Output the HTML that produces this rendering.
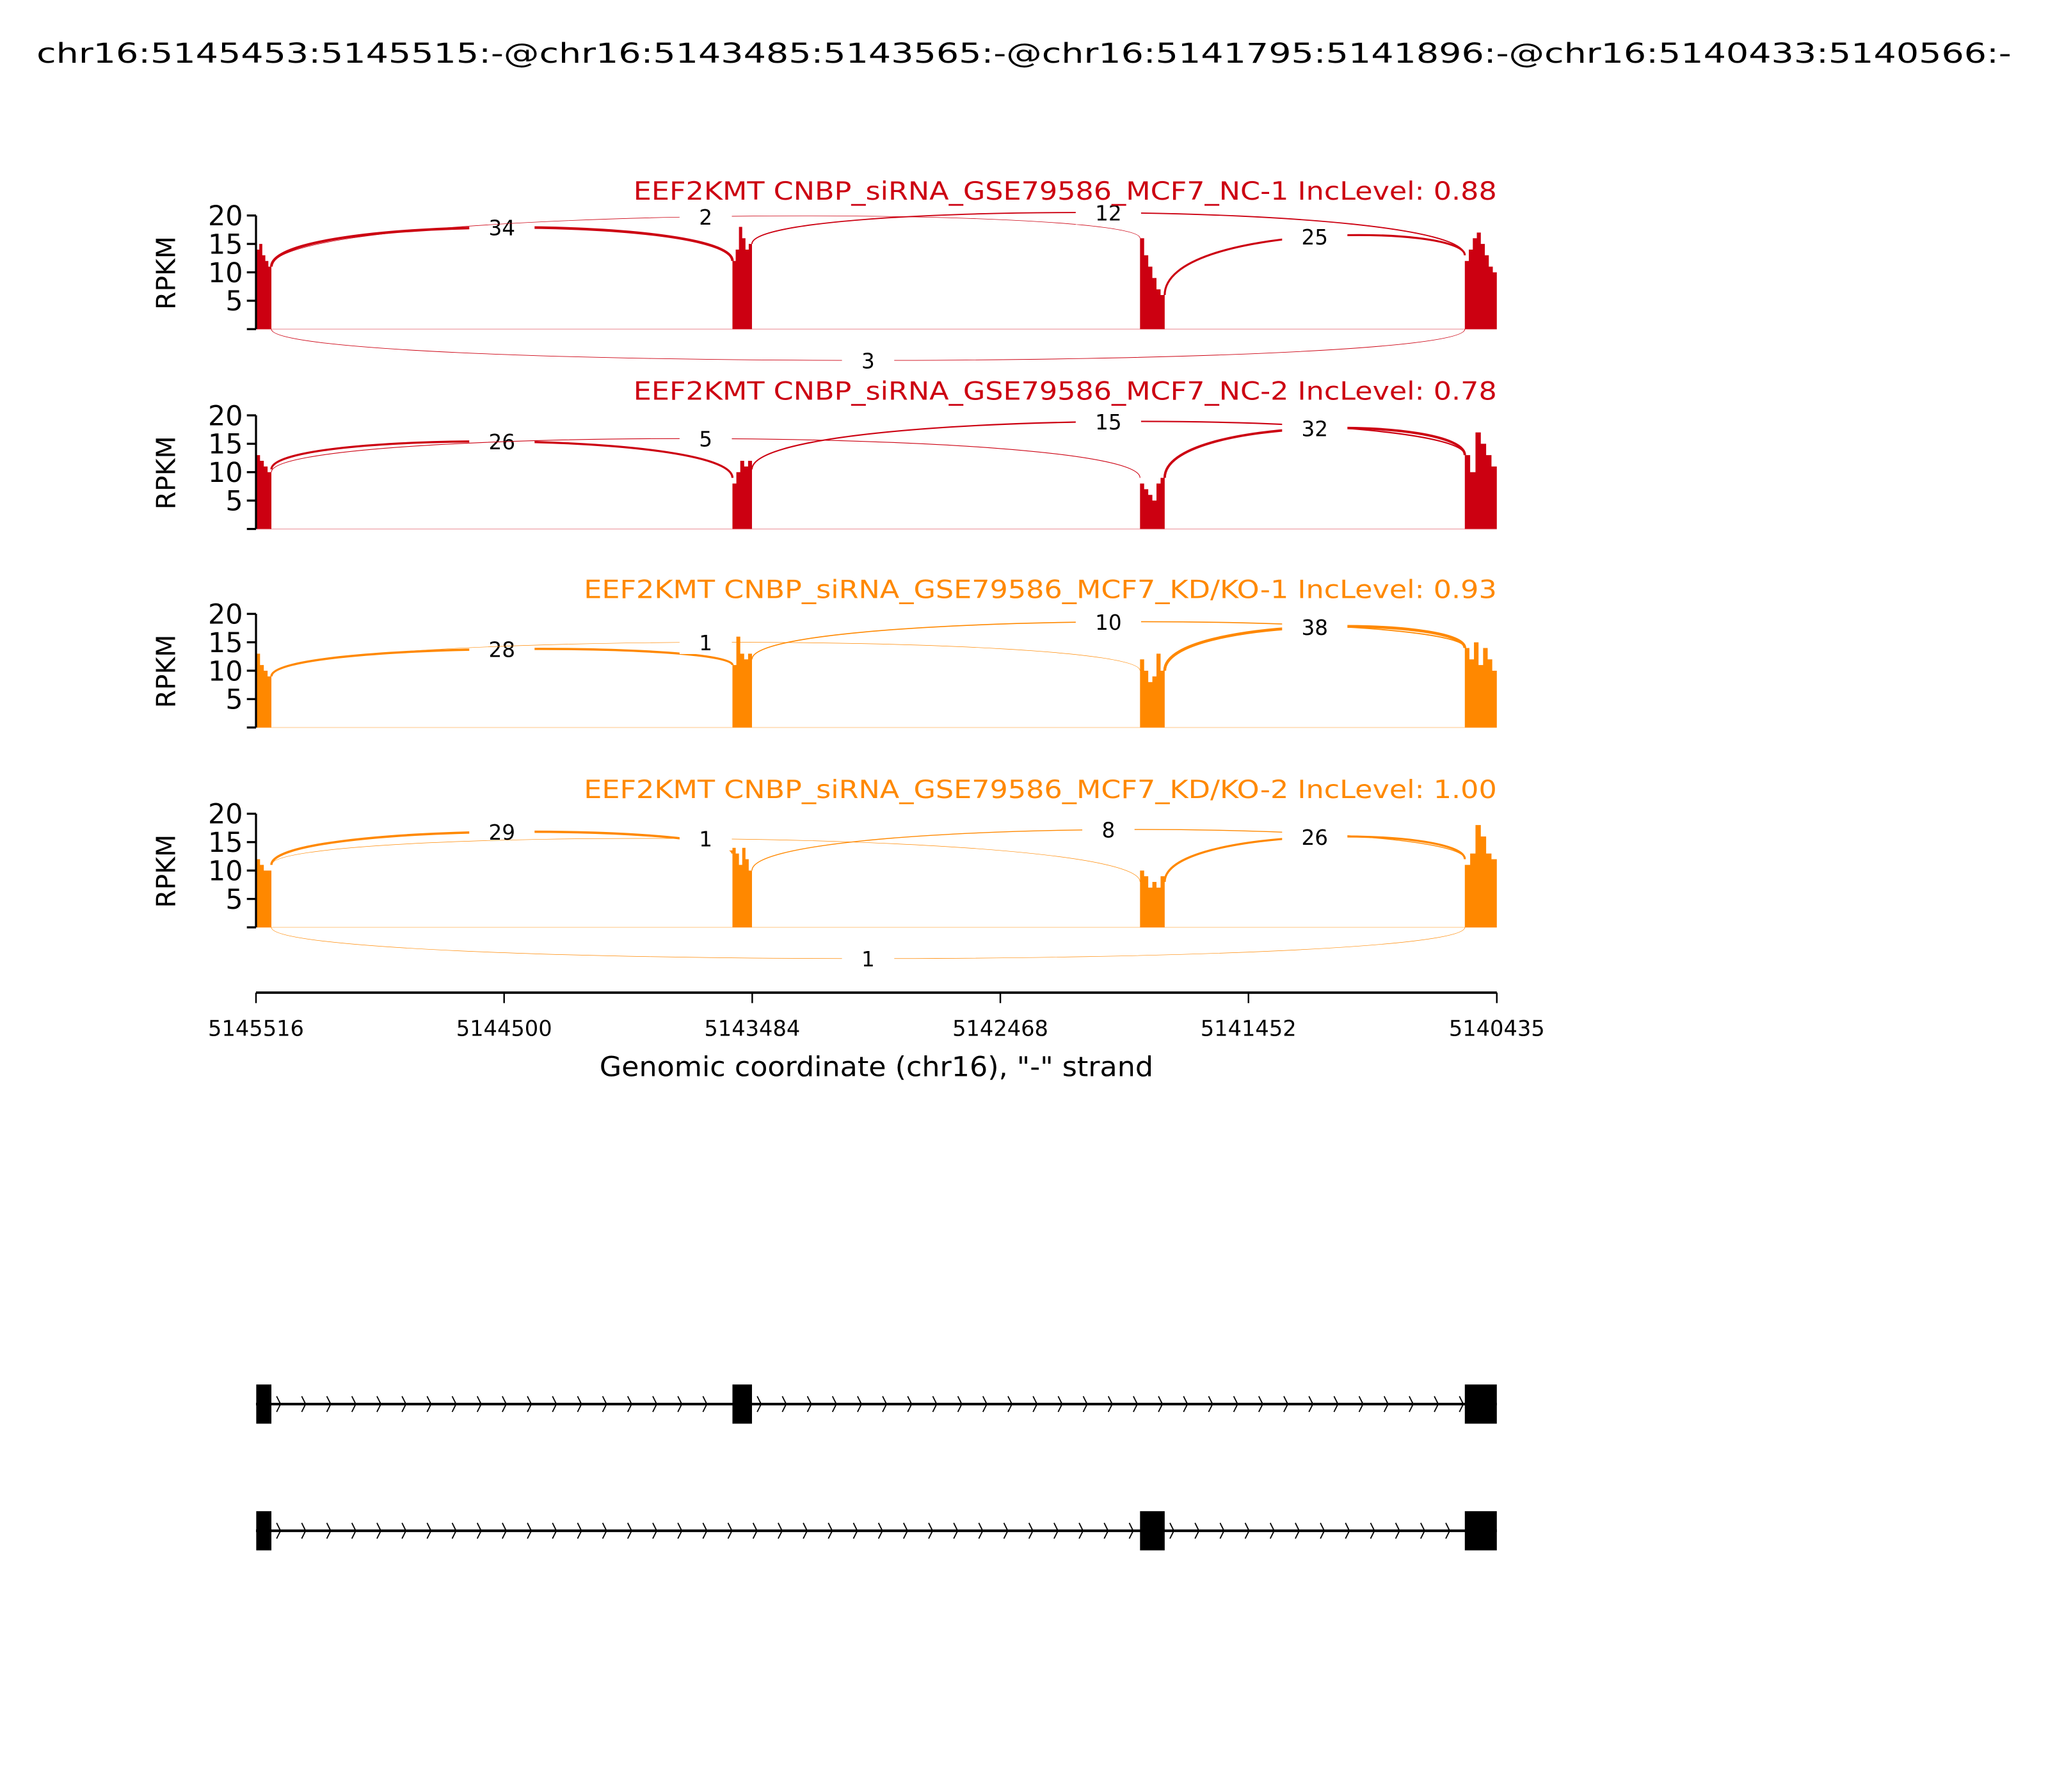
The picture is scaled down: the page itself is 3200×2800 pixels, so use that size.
<!DOCTYPE html>
<html><head><meta charset="utf-8"><style>html,body{margin:0;padding:0;background:#fff}svg{display:block}text{font-family:"DejaVu Sans","Liberation Sans",sans-serif}</style></head>
<body>
<svg id="chart" xmlns="http://www.w3.org/2000/svg" width="3200" height="2800" viewBox="0 0 1568 1372">
<rect width="1568" height="1372" fill="#fff"/>
<text x="784" y="48" font-size="21" text-anchor="middle" textLength="1512" lengthAdjust="spacingAndGlyphs">chr16:5145453:5145515:-@chr16:5143485:5143565:-@chr16:5141795:5141896:-@chr16:5140433:5140566:-</text>
<g id="panels"></g>
<g id="xaxis"></g>
<g id="genes"></g>
</svg>
<script>
const NS="http://www.w3.org/2000/svg";
const gLeft=5145516, gRight=5140435;
const exonStart=[5145453,5143485,5141795,5140433];
const exonEnd=[5145515,5143565,5141896,5140566];
const sampleNames=["EEF2KMT CNBP_siRNA_GSE79586_MCF7_NC-1 IncLevel: 0.88","EEF2KMT CNBP_siRNA_GSE79586_MCF7_NC-2 IncLevel: 0.78","EEF2KMT CNBP_siRNA_GSE79586_MCF7_KD/KO-1 IncLevel: 0.93","EEF2KMT CNBP_siRNA_GSE79586_MCF7_KD/KO-2 IncLevel: 1.00"];
const sampleColors=["#cc0011","#cc0011","#ff8800","#ff8800"];
const yTicks=[5,10,15,20];
// coverage per sample per exon (RPKM)
const cov1=[[14,15,13,12,11],[12,14,18,16,14,15],[16,13,11,9,7,6],[12,14,16,17,15,13,11,10]];
const cov2=[[13,12,11,10],[8,10,12,11,12],[8,7,6,5,8,9],[13,10,17,15,13,11]];
const cov3=[[13,11,10,9],[11,16,13,12,13],[12,10,8,9,13,10],[14,12,15,11,14,12,10]];
const cov4=[[12,11,10,10],[14,13,11,14,12,10],[10,9,7,8,7,9],[11,13,18,16,13,12]];
const coverage=[cov1,cov2,cov3,cov4];
// junctions: [fromExon,toExon,count,startY,endY,labelY]
const junc1=[[0,1,34,11,12,17.9],[0,2,2,11,16,19.8],[1,3,12,15,13,20.5],[2,3,25,6,13,16.3],[0,3,3,0,0,-5.5]];
const junc2=[[0,1,26,10.5,9,15.4],[0,2,5,10,9,15.9],[1,3,15,10.5,13,18.9],[2,3,32,9,13,17.7]];
const junc3=[[0,1,28,9,11,13.8],[0,2,1,9,10,15.0],[1,3,10,12,14,18.6],[2,3,38,10,14,17.7]];
const junc4=[[0,1,29,11,13,16.8],[0,2,1,11,8,15.6],[1,3,8,10,12,17.2],[2,3,26,8,12,15.9],[0,3,1,0,0,-5.5]];
const junctions=[junc1,junc2,junc3,junc4];
const xTickVals=[5145516,5144500,5143484,5142468,5141452,5140435];
const transcript1=[0,1,3];
const transcript2=[0,2,3];

const X0=196,X1=1146;
function xs(g){return X0+(gLeft-g)/(gLeft-gRight)*(X1-X0);}
const zeros=[252,405,557,710];
function ys(v,p){return zeros[p]-v*4.35;}
function el(t,a,parent){const e=document.createElementNS(NS,t);for(const k in a)e.setAttribute(k,a[k]);parent.appendChild(e);return e;}
function exL(i){return xs(exonEnd[i]);}
function exR(i){return Math.min(xs(exonStart[i]),X1);}

const panels=document.getElementById('panels');
for(let p=0;p<4;p++){
  const g=el('g',{},panels);
  
  
  const col=sampleColors[p];
  const bl=el('line',{x1:X0,x2:X1,y1:zeros[p],y2:zeros[p],stroke:col,'stroke-opacity':0.3,'stroke-width':0.8},g);
  
  
  coverage[p].forEach((vals,i)=>{
    const l=exL(i),r=exR(i),w=(r-l)/vals.length;
    let d='M'+l+','+zeros[p];
    vals.forEach((v,k)=>{d+=' L'+(l+k*w)+','+ys(v,p)+' L'+(l+(k+1)*w)+','+ys(v,p);});
    d+=' L'+r+','+zeros[p]+'Z';
    const a=el('path',{d:d,fill:col},g);
    
    
  });
  junctions[p].forEach(j=>{
    const [a,b,c,sy,ey,ly]=j;
    const x1=exR(a),x2=exL(b),y1=ys(sy,p),y2=ys(ey,p),ym=ys(ly,p);
    const yt=(ym-(y1+y2)/8)/0.75;
    const arc=el('path',{d:`M${x1},${y1} C${x1},${yt} ${x2},${yt} ${x2},${y2}`,fill:'none',stroke:col,'stroke-width':0.3+c*0.05},g);
    
    
    const mx=(x1+x2)/2, tw=String(c).length*10+30;
    const bx=el('rect',{x:mx-tw/2,y:ym-9,width:tw,height:18,fill:'#fff'},g);
    
    
    const t=el('text',{x:mx,y:ym+6,'font-size':16,'text-anchor':'middle'},g);
    t.textContent=c;
    
    
  });
  const top=ys(20,p);
  const sp=el('line',{x1:X0,x2:X0,y1:top,y2:zeros[p],stroke:'#000','stroke-width':1.6},g);
  
  
  [0].concat(yTicks).forEach(v=>{
    const tk=el('line',{x1:X0-7,x2:X0,y1:ys(v,p),y2:ys(v,p),stroke:'#000','stroke-width':1.6},g);
    
    
    if(v>0){const t=el('text',{x:X0-10,y:ys(v,p)+7.5,'font-size':21,'text-anchor':'end'},g);t.textContent=v;
      
      }
  });
  const yl=el('text',{x:0,y:0,'font-size':20,'text-anchor':'middle',transform:`translate(134,${zeros[p]-43}) rotate(-90)`},g);
  yl.textContent='RPKM';
  
  
  const tt=el('text',{x:X1,y:zeros[p]-99,'font-size':19,'text-anchor':'end',fill:col,textLength:p<2?661:699,lengthAdjust:'spacingAndGlyphs'},g);
  tt.textContent=sampleNames[p];
  
  
}
const xa=document.getElementById('xaxis');
el('line',{x1:X0,x2:X1,y1:760,y2:760,stroke:'#000','stroke-width':1.8},xa);
xTickVals.forEach(v=>{
  const x=xs(v);
  const tk=el('line',{x1:x,x2:x,y1:760,y2:768,stroke:'#000','stroke-width':1.2},xa);
  
  
  const t=el('text',{x:x,y:793,'font-size':16.5,'text-anchor':'middle'},xa);
  t.textContent=v;
  
  
});
const xt=el('text',{x:671,y:824,'font-size':21,'text-anchor':'middle',textLength:424,lengthAdjust:'spacingAndGlyphs'},xa);
xt.textContent='Genomic coordinate (chr16), "-" strand';


const gm=document.getElementById('genes');
[[transcript1,1075],[transcript2,1172]].forEach(([tr,y],ti)=>{
  const g=el('g',{},gm);
  
  
  el('line',{x1:X0,x2:X1,y1:y,y2:y,stroke:'#000','stroke-width':2},g);
  for(let k=0;k<tr.length-1;k++){
    const a=exR(tr[k]),b=exL(tr[k+1]);
    for(let x=a+4;x<b-4;x+=19.2){
      el('path',{d:`M${x},${y-6} L${x+3},${y} L${x},${y+6}`,fill:'none',stroke:'#000','stroke-width':0.9},g);
    }
  }
  tr.forEach(i=>{
    const r=el('rect',{x:exL(i),y:y-15,width:exR(i)-exL(i),height:30,fill:'#000'},g);
    
    
  });
});
</script>
</body></html>
